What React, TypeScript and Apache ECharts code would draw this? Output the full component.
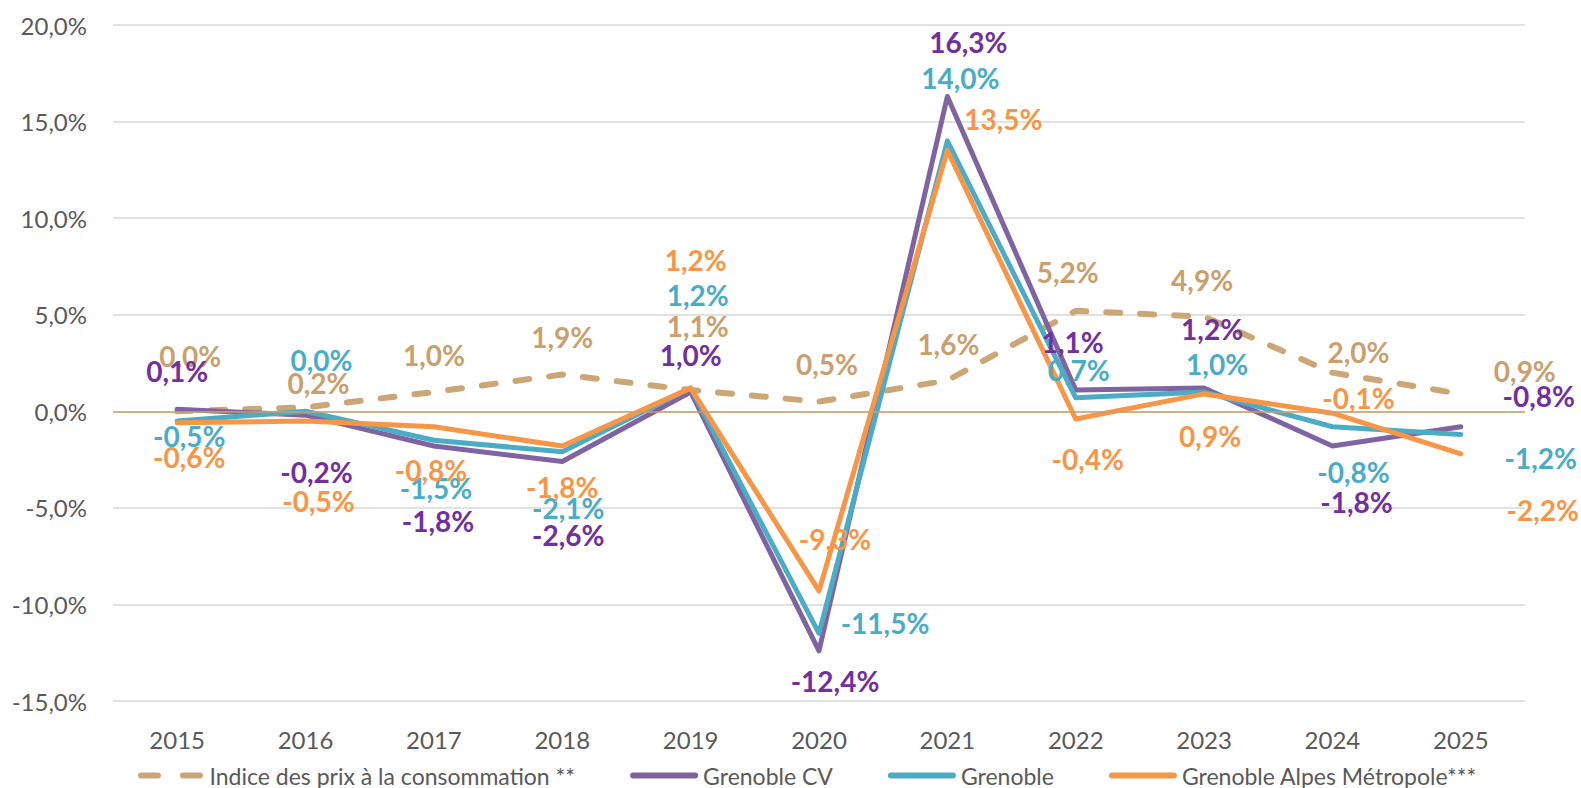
import React, { useEffect, useRef } from "react";
import * as echarts from "echarts";

const categories = ["2015", "2016", "2017", "2018", "2019", "2020", "2021", "2022", "2023", "2024", "2025"];

const ipcValues = [0.0, 0.2, 1.0, 1.9, 1.1, 0.5, 1.6, 5.2, 4.9, 2.0, 0.9];
const cvValues = [0.1, -0.2, -1.8, -2.6, 1.0, -12.4, 16.3, 1.1, 1.2, -1.8, -0.8];
const grenobleValues = [-0.5, 0.0, -1.5, -2.1, 1.2, -11.5, 14.0, 0.7, 1.0, -0.8, -1.2];
const gamValues = [-0.6, -0.5, -0.8, -1.8, 1.2, -9.3, 13.5, -0.4, 0.9, -0.1, -2.2];

const seriesNames = [
  "Indice des prix à la consommation **",
  "Grenoble CV",
  "Grenoble",
  "Grenoble Alpes Métropole***",
];

// label offsets (styling only), in pixels relative to each point
const ipcOffsets = [[13, -55], [13, -24], [0, -37], [0, -38], [7, -64], [8, -38], [1, -36], [-8, -39], [-2, -37], [26, -21], [64, -23]];
const cvOffsets = [[0, -38], [11, 57], [4, 75], [6, 73], [0, -37], [16, 30], [21, -54], [-3, -48], [8, -59], [24, 56], [78, -31]];
const grenobleOffsets = [[12, 15], [16, -51], [2, 48], [6, 56], [7, -93], [66, -10], [13, -63], [3, -28], [13, -28], [21, 45], [80, 24]];
const gamOffsets = [[12, 34], [13, 80], [-3, 43], [0, 41], [5, -128], [16, -52], [56, -32], [12, 40], [6, 42], [26, -15], [82, 56]];

const fmt = (v: number) => v.toFixed(1).replace(".", ",") + "%";
const FONT = "Lato";

function buildData(values: number[], offsets: number[][]) {
  return values.map((v, i) => ({
    value: v,
    label: { offset: offsets[i] },
  }));
}

const dashIcon = "path://M3,0h17a3,3 0 0 1 0,6h-17a3,3 0 0 1 0,-6z M45,0h17a3,3 0 0 1 0,6h-17a3,3 0 0 1 0,-6z";
const solidIcon = "path://M3,0h64a3,3 0 0 1 0,6h-64a3,3 0 0 1 0,-6z";

export default function App() {
  const ref = useRef<HTMLDivElement>(null);
  useEffect(() => {
    if (!ref.current) return;
    const chart = echarts.init(ref.current, undefined, { renderer: "svg" });
    const mk = (
      name: string,
      values: number[],
      offsets: number[][],
      lineColor: string,
      labelColor: string,
      lineType: any,
      width: number,
      extra: any = {}
    ) => ({
      name,
      type: "line",
      data: buildData(values, offsets),
      symbol: "circle",
      symbolSize: 0.1,
      showSymbol: true,
      itemStyle: { color: lineColor },
      lineStyle: { color: lineColor, width, type: lineType, cap: "round", join: "round" },
      label: {
        show: true,
        position: "inside",
        formatter: (p: any) => fmt(p.value),
        color: labelColor,
        fontFamily: FONT,
        fontWeight: "bold",
        fontSize: 28,
        align: "center",
        verticalAlign: "middle",
      },
      emphasis: { disabled: true },
      ...extra,
    });
    chart.setOption({
      animation: false,
      textStyle: { fontFamily: FONT },
      grid: { left: 113, right: 56, top: 25, bottom: 87, containLabel: false },
      legend: {
        top: 759,
        left: 133,
        padding: 5,
        itemWidth: 68,
        itemHeight: 6,
        itemGap: 55,
        textStyle: { fontFamily: FONT, fontSize: 23, color: "#595959" },
        data: [
          { name: seriesNames[0], icon: dashIcon, itemStyle: { color: "#CCA675" } },
          { name: seriesNames[1], icon: solidIcon, itemStyle: { color: "#8064A2" } },
          { name: seriesNames[2], icon: solidIcon, itemStyle: { color: "#4BACC6" } },
          { name: seriesNames[3], icon: solidIcon, itemStyle: { color: "#F79646" } },
        ],
      },
      xAxis: {
        type: "category",
        data: categories,
        boundaryGap: true,
        axisLine: { show: false, onZero: false },
        axisTick: { show: false },
        axisLabel: { color: "#595959", fontSize: 24, fontFamily: FONT, margin: 26 },
      },
      yAxis: {
        type: "value",
        min: -15,
        max: 20,
        interval: 5,
        axisLine: { show: false },
        axisTick: { show: false },
        splitLine: { lineStyle: { color: "#D9D9D9", width: 1.5 } },
        axisLabel: {
          color: "#595959",
          fontSize: 24,
          fontFamily: FONT,
          margin: 26,
          formatter: (v: number) => fmt(v),
        },
      },
      series: [
        mk(seriesNames[0], ipcValues, ipcOffsets, "#CCA675", "#C9A06E", [14, 20], 6, {
          markLine: {
            silent: true,
            symbol: "none",
            label: { show: false },
            lineStyle: { color: "#C9A06E", width: 1.5, type: "solid" },
            data: [{ yAxis: 0 }],
          },
        }),
        mk(seriesNames[1], cvValues, cvOffsets, "#8064A2", "#7030A0", "solid", 5),
        mk(seriesNames[2], grenobleValues, grenobleOffsets, "#4BACC6", "#4BACC6", "solid", 5),
        mk(seriesNames[3], gamValues, gamOffsets, "#F79646", "#F79646", "solid", 5),
      ],
    });
    return () => chart.dispose();
  }, []);
  return (
    <div
      ref={ref}
      style={{ position: "absolute", left: 0, top: 0, width: 1581, height: 788 }}
    />
  );
}
